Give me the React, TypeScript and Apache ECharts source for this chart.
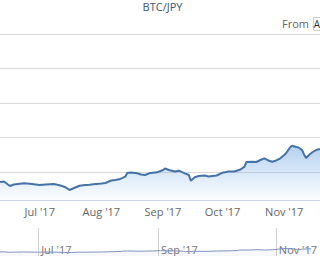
import React, { useEffect, useRef } from 'react';
import * as echarts from 'echarts';

const TITLE = 'BTC/JPY';
const MONTHS = ['Jan', 'Feb', 'Mar', 'Apr', 'May', 'Jun', 'Jul', 'Aug', 'Sep', 'Oct', 'Nov', 'Dec'];

const dates = [
  '2017-06-11', '2017-06-12', '2017-06-13', '2017-06-16', '2017-06-18', '2017-06-20', '2017-06-23',
  '2017-06-26', '2017-06-29', '2017-07-01', '2017-07-04', '2017-07-08', '2017-07-11', '2017-07-14',
  '2017-07-16', '2017-07-18', '2017-07-21', '2017-07-24', '2017-07-26', '2017-07-28', '2017-08-01',
  '2017-08-03', '2017-08-06', '2017-08-08', '2017-08-10', '2017-08-13', '2017-08-14', '2017-08-16',
  '2017-08-19', '2017-08-21', '2017-08-23', '2017-08-25', '2017-08-29', '2017-09-01', '2017-09-02',
  '2017-09-04', '2017-09-07', '2017-09-09', '2017-09-12', '2017-09-14', '2017-09-15', '2017-09-17',
  '2017-09-19', '2017-09-22', '2017-09-24', '2017-09-28', '2017-10-01', '2017-10-04', '2017-10-07',
  '2017-10-10', '2017-10-12', '2017-10-13', '2017-10-16', '2017-10-18', '2017-10-20', '2017-10-22',
  '2017-10-24', '2017-10-26', '2017-10-28', '2017-10-30', '2017-11-01', '2017-11-02', '2017-11-04',
  '2017-11-05', '2017-11-07', '2017-11-08', '2017-11-10', '2017-11-11', '2017-11-12', '2017-11-14',
  '2017-11-15', '2017-11-17', '2017-11-19',
];
const prices = [
  355000, 360000, 362000, 297000, 319000, 326000, 336000,
  329000, 319000, 311000, 319000, 326000, 307000, 278000,
  239000, 264000, 301000, 311000, 316000, 322000, 333000,
  340000, 377000, 384000, 394000, 432000, 485000, 493000,
  481000, 464000, 456000, 481000, 495000, 529000, 551000,
  529000, 507000, 519000, 481000, 456000, 374000, 423000,
  442000, 449000, 435000, 449000, 490000, 507000, 507000,
  536000, 577000, 645000, 649000, 645000, 674000, 698000,
  667000, 649000, 667000, 698000, 746000, 775000, 858000,
  881000, 862000, 858000, 819000, 753000, 703000, 761000,
  782000, 819000, 833000,
];

// daily categories of the time axis
const FIRST_DAY = Date.UTC(2017, 5, 11);
const LAST_DAY = Date.UTC(2017, 10, 19);
const days: string[] = [];
for (let t = FIRST_DAY; t <= LAST_DAY; t += 86400000) {
  days.push(new Date(t).toISOString().slice(0, 10));
}

const monthLabel = (v: string) => MONTHS[parseInt(v.slice(5, 7), 10) - 1] + " '" + v.slice(2, 4);
const isMonthStart = (_i: number, v: string) => v.slice(8, 10) === '01';
const isNavMonth = (_i: number, v: string) => {
  const m = parseInt(v.slice(5, 7), 10);
  return v.slice(8, 10) === '01' && (m === 7 || m === 9 || m === 11);
};

const FONT = 'Open Sans';

export default function App() {
  const ref = useRef<HTMLDivElement>(null);
  useEffect(() => {
    document.body.style.margin = '0';
    if (!ref.current) return;
    const chart = echarts.init(ref.current, null, { renderer: 'svg' });
    const seriesData = dates.map((d, i) => [d, prices[i]]);
    chart.setOption({
      animation: false,
      backgroundColor: '#ffffff',
      grid: [
        { left: -5.54, top: 34, width: 334.4, height: 166 },
        { left: -0.82, top: 228, width: 323.0, height: 28 },
      ],
      xAxis: [
        {
          type: 'category',
          gridIndex: 0,
          data: days,
          boundaryGap: false,
          axisLine: { show: true, lineStyle: { color: '#ccd6eb', width: 1 } },
          axisTick: { show: false },
          splitLine: { show: false },
          axisLabel: {
            interval: isMonthStart,
            formatter: monthLabel,
            color: '#666666',
            fontSize: 11,
            fontFamily: FONT,
            margin: 6,
          },
        },
        {
          type: 'category',
          gridIndex: 1,
          data: days,
          boundaryGap: false,
          axisLine: { show: false },
          axisTick: { show: false },
          splitLine: { show: true, interval: isNavMonth, lineStyle: { color: '#d0d0d0', width: 1 } },
          axisLabel: {
            interval: isNavMonth,
            formatter: monthLabel,
            inside: true,
            align: 'left',
            padding: [0, 0, 0, 2.5],
            margin: 1.5,
            color: '#777777',
            fontSize: 11,
            fontFamily: FONT,
          },
        },
      ],
      yAxis: [
        {
          type: 'value',
          gridIndex: 0,
          min: 94000,
          max: 2500000,
          splitNumber: 5,
          axisLabel: { show: false },
          axisLine: { show: false },
          axisTick: { show: false },
          splitLine: { show: true, lineStyle: { color: '#d9d9d9', width: 1 } },
        },
        {
          type: 'value',
          gridIndex: 1,
          min: -287000,
          max: 4073000,
          show: false,
          splitLine: { show: false },
        },
      ],
      series: [
        {
          name: TITLE,
          type: 'line',
          xAxisIndex: 0,
          yAxisIndex: 0,
          data: seriesData,
          showSymbol: false,
          lineStyle: { color: '#4572a7', width: 2 },
          itemStyle: { color: '#4572a7' },
          areaStyle: {
            origin: 'start',
            color: new echarts.graphic.LinearGradient(0, 0, 0, 1, [
              { offset: 0, color: 'rgba(124,170,225,0.8)' },
              { offset: 1, color: 'rgba(124,181,236,0.03)' },
            ]),
          },
        },
        {
          name: 'navigator',
          type: 'line',
          xAxisIndex: 1,
          yAxisIndex: 1,
          data: seriesData,
          showSymbol: false,
          silent: true,
          lineStyle: { color: '#7f93bd', width: 1 },
          areaStyle: { origin: 'start', color: 'rgba(51,92,173,0.06)' },
        },
      ],
      graphic: [
        {
          type: 'text',
          x: 162.5,
          y: 6.5,
          style: {
            text: TITLE,
            textAlign: 'center',
            textVerticalAlign: 'middle',
            fill: '#3e576f',
            font: `11px "${FONT}"`,
          },
        },
        {
          type: 'text',
          x: 309,
          y: 23.5,
          style: {
            text: 'From',
            textAlign: 'right',
            textVerticalAlign: 'middle',
            fill: '#666666',
            font: `11px "${FONT}"`,
          },
        },
        {
          type: 'rect',
          shape: { x: 313.5, y: 17.5, width: 80, height: 13 },
          style: { fill: '#ffffff', stroke: '#cccccc', lineWidth: 1 },
        },
        {
          type: 'text',
          x: 313.8,
          y: 24,
          style: {
            text: 'A',
            textAlign: 'left',
            textVerticalAlign: 'middle',
            fill: '#333333',
            font: `10px "${FONT}"`,
          },
        },
      ],
    });
    return () => chart.dispose();
  }, []);
  return (
    <div
      ref={ref}
      style={{ position: 'absolute', left: 0, top: 0, width: 320, height: 256 }}
    />
  );
}
